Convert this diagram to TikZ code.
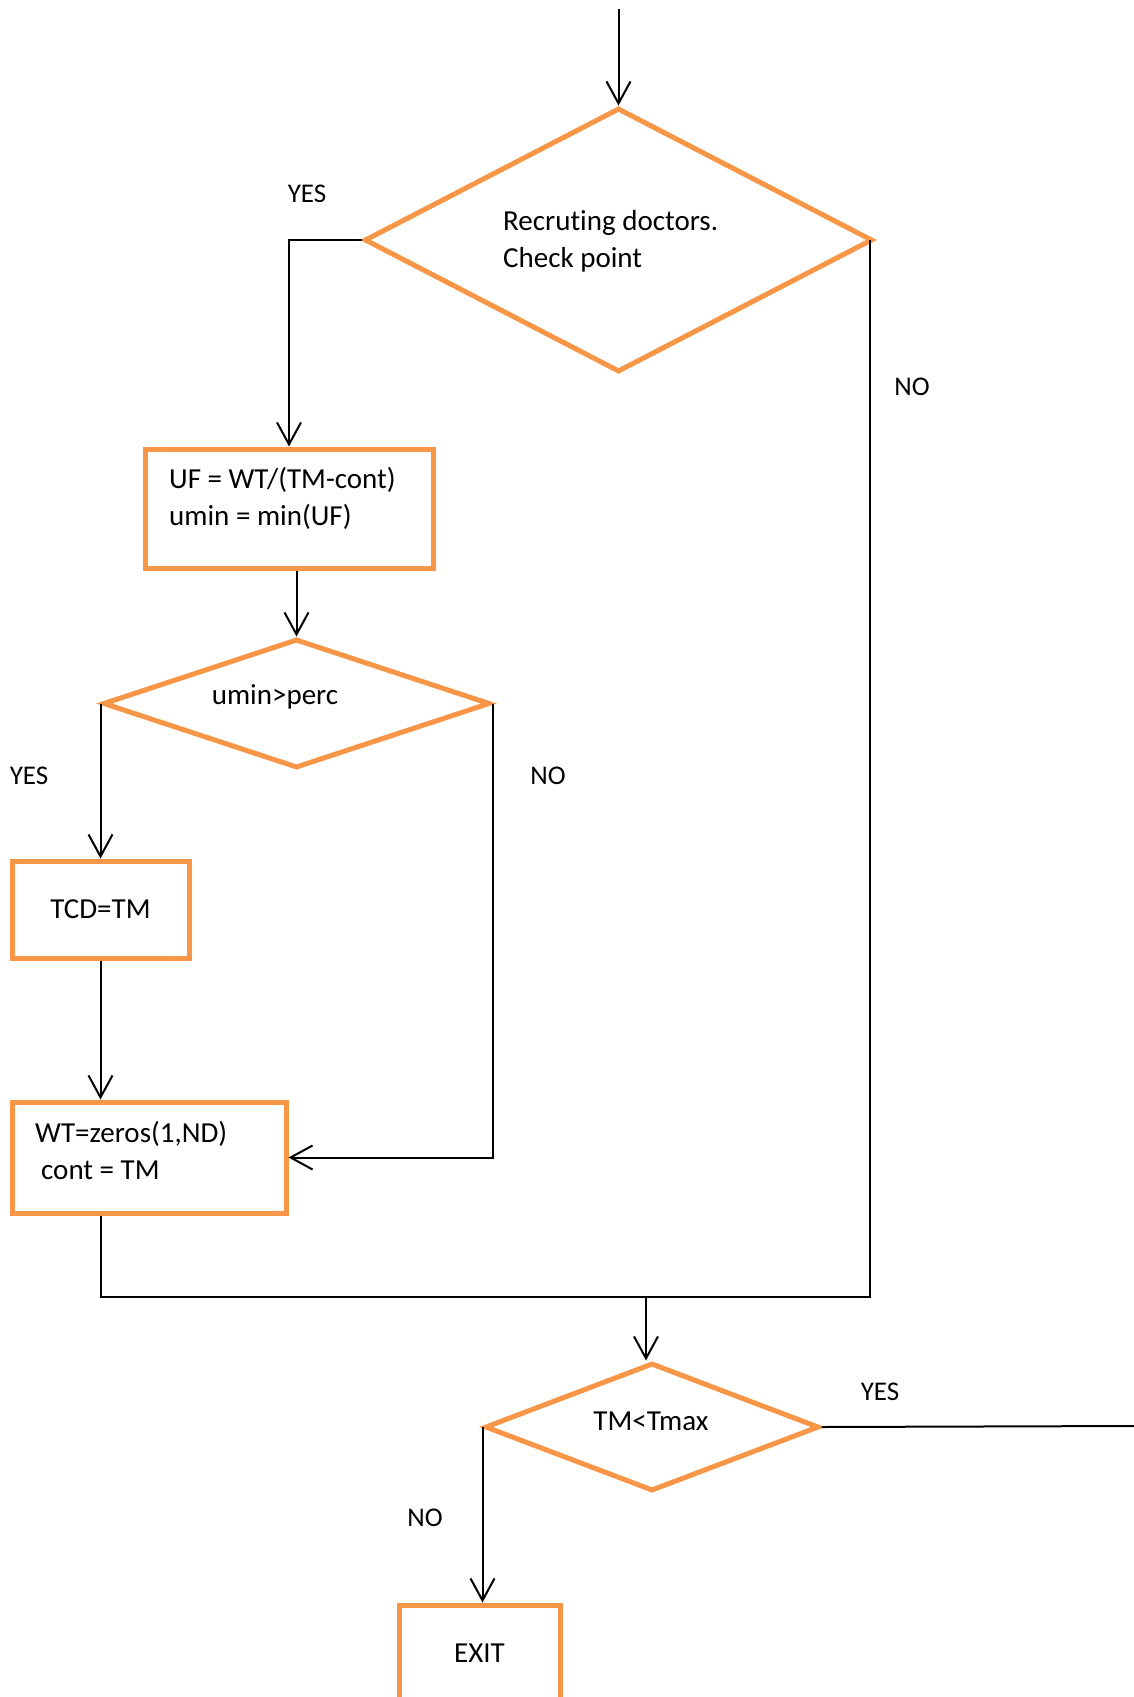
\documentclass[tikz,border=0pt]{standalone}
\usepackage{fontspec}
\setmainfont[Ligatures=NoCommon]{Carlito}
\usetikzlibrary{arrows.meta, shapes.geometric, calc}
\definecolor{flow}{HTML}{F79646}

\begin{document}
\begin{tikzpicture}[
    x=1pt, y=-1pt,
    every node/.style={font=\fontsize{29}{37}\selectfont},
    box/.style={draw=flow, line width=5pt, inner sep=0pt},
    dec/.style={diamond, draw=flow, line width=5pt, inner sep=0pt},
    txt/.style={anchor=west, align=left, inner sep=0pt},
    ans/.style={font=\fontsize{27}{32}\selectfont, inner sep=0pt},
    conn/.style={line width=2pt},
    arr/.style={line width=2pt, -{Straight Barb[length=22pt, width=24pt]}}
  ]
  \useasboundingbox (0,0) rectangle (1134,1697);
  \clip (0,0) rectangle (1134,1697);

  % decisions and steps
  \node[dec, minimum width=508pt, minimum height=264pt] (d1) at (618.5,240) {};
  \node[txt] (d1txt) at (503,241) {Recruting doctors.\\Check point};
  \node[box, minimum width=288pt, minimum height=119pt] (b1) at (289,508.5) {};
  \node[txt] (b1txt) at (169,498) {UF = WT/(TM-cont)\\umin = min(UF)};
  \node[dec, minimum width=387pt, minimum height=129pt] (d2) at (296.5,703.5) {};
  \node[inner sep=0pt] (d2txt) at (275,697) {umin>perc};
  \node[box, minimum width=177pt, minimum height=97pt] (tcd) at (100.5,909.5) {TCD=TM};
  \node[box, minimum width=274pt, minimum height=111pt] (wt) at (149,1157.5) {};
  \node[txt] (wttxt) at (35,1150) {WT=zeros(1,ND)\\\hspace*{6pt}cont = TM};
  \node[dec, minimum width=334pt, minimum height=128pt] (d3) at (652,1427) {};
  \node[inner sep=0pt] (d3txt) at (651,1421) {TM<Tmax};
  \node[box, minimum width=161pt, minimum height=96pt] (exit) at (479.5,1653) {EXIT};

  % branch labels
  \node[ans] (yes1) at (307,194) {YES};
  \node[ans] (no1) at (912,387) {NO};
  \node[ans] (yes2) at (29,776) {YES};
  \node[ans] (no2) at (548,776) {NO};
  \node[ans] (yes3) at (880,1392) {YES};
  \node[ans] (no3) at (425,1518) {NO};

  % connectors
  \coordinate (start) at (618.5,9);
  \coordinate (merge) at (646,1297);
  \coordinate (out) at (1134,1426);

  \draw[arr] (start) -- (d1.north);
  \draw[arr] (d1.west) -| (b1.north);
  \draw[arr] (b1.south -| d2.north) -- (d2.north);
  \draw[arr] (d2.west) -- (d2.west |- tcd.north);
  \draw[arr] (tcd.south) -- (wt.north -| tcd.south);
  \draw[arr] (d2.east) |- (wt.east);
  \draw[conn] (wt.south -| d2.west) |- ($(merge -| d1.east)+(-5,0)$) -- ($(d1.east)+(-5,0)$);
  \draw[arr] (merge) -- (merge |- d3.north);
  \draw[conn] (d3.east) -- (out);
  \draw[arr] (d3.west) -- (d3.west |- exit.north);
\end{tikzpicture}
\end{document}
